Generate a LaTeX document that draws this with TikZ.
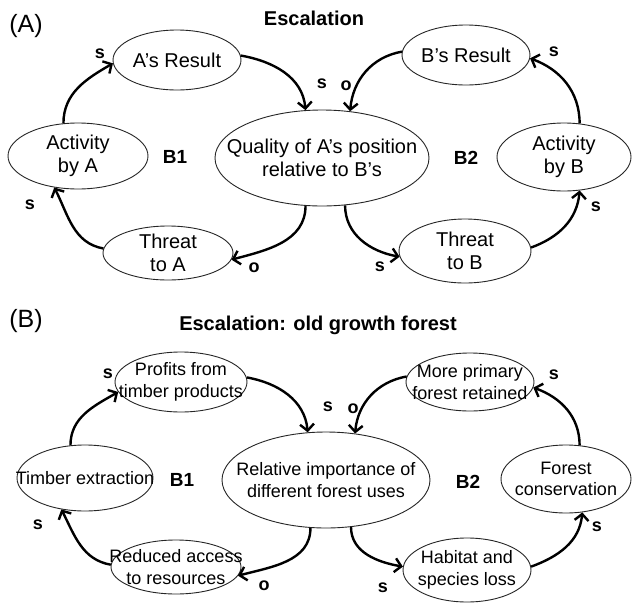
\documentclass[tikz,border=0pt]{standalone}
\usepackage{fontspec}
\setmainfont{Liberation Sans}
\usetikzlibrary{shapes.geometric,arrows.meta}

\tikzset{
  oval/.style={ellipse, draw=black!85, line width=0.9pt, inner sep=-90pt},
  txtA/.style={align=center, font=\fontsize{20}{23}\selectfont},
  txtB/.style={align=center, font=\fontsize{18}{21.5}\selectfont},
  arr/.style={line width=2.4pt, -{Straight Barb[length=6.5pt,width=14pt]}},
  pol/.style={font=\bfseries\fontsize{18}{18}\selectfont, inner sep=0pt},
  loopname/.style={font=\bfseries\fontsize{19}{19}\selectfont, inner sep=0pt},
  heading/.style={font=\bfseries\fontsize{20}{20}\selectfont, inner sep=0pt},
  panel/.style={font=\fontsize{25}{25}\selectfont, inner sep=0pt},
}

\begin{document}
\begin{tikzpicture}[x=1pt, y=-1pt]
\useasboundingbox[fill=white] (0,0) rectangle (633,606);

% ---------------- (A) Escalation ----------------
\node[panel] (labA) at (26,26) {(A)};
\node[heading] (titA) at (314,18) {Escalation};

\node[oval, minimum width=128pt, minimum height=60pt] (resA) at (177,60) {};
\node[txtA] (resAt) at (resA) {A’s Result};
\node[oval, minimum width=140pt, minimum height=66pt] (actA) at (78,156) {};
\node[txtA] (actAt) at (actA) {Activity\\by A};
\node[oval, minimum width=130pt, minimum height=54pt] (thrA) at (168,253) {};
\node[txtA] (thrAt) at (thrA) {Threat\\to A};
\node[oval, minimum width=214pt, minimum height=96pt] (qual) at (322,158) {};
\node[txtA] (qualt) at (qual) {Quality of A’s position\\relative to B’s};
\node[oval, minimum width=128pt, minimum height=60pt] (resB) at (466,55) {};
\node[txtA] (resBt) at (resB) {B’s Result};
\node[oval, minimum width=134pt, minimum height=68pt] (actB) at (564,157) {};
\node[txtA] (actBt) at (actB) {Activity\\by B};
\node[oval, minimum width=132pt, minimum height=64pt] (thrB) at (465,251) {};
\node[txtA] (thrBt) at (thrB) {Threat\\to B};

\node[loopname] (b1A) at (175,157) {B1};
\node[loopname] (b2A) at (466,158) {B2};

\draw[arr] (actA.114) to[out=90, in=210] (resA.183);
\draw[arr] (resA.4) to[out=-10, in=95] (qual.109);
\draw[arr] (resB.177) to[out=190, in=85] (qual.59);
\draw[arr] (qual.251) to[out=270, in=15] (thrA.354);
\draw[arr] (thrA.176) to[out=170, in=-63] (actA.233);
\draw[arr] (qual.296) to[out=270, in=170] (thrB.185);
\draw[arr] (thrB.3) to[out=20, in=-95] (actB.295);
\draw[arr] (actB.65) to[out=90, in=-20] (resB.357);

\node[pol] (pA1) at (100,54) {s};
\node[pol] (pA2) at (322,84) {s};
\node[pol] (pA3) at (346,86) {o};
\node[pol] (pA4) at (254,268) {o};
\node[pol] (pA5) at (30,205) {s};
\node[pol] (pA6) at (380,267) {s};
\node[pol] (pA7) at (596,207) {s};
\node[pol] (pA8) at (554,52) {s};

% ---------------- (B) Escalation: old growth forest ----------------
\node[panel] (labB) at (26,321) {(B)};
\node[heading] (titB) at (318,325) {Escalation: old growth forest};

\node[oval, minimum width=132pt, minimum height=60pt] (prof) at (181,382) {};
\node[txtB] (proft) at (prof) {Profits from\\timber products};
\node[oval, minimum width=136pt, minimum height=66pt] (timb) at (85,478) {};
\node[txtB] (timbt) at (timb) {Timber extraction};
\node[oval, minimum width=130pt, minimum height=54pt] (redu) at (176,567) {};
\node[txtB] (redut) at (redu) {Reduced access\\to resources};
\node[oval, minimum width=208pt, minimum height=96pt] (rel) at (326,480) {};
\node[txtB] (relt) at (rel) {Relative importance of\\different forest uses};
\node[oval, minimum width=128pt, minimum height=58pt] (more) at (470,382) {};
\node[txtB] (moret) at (more) {More primary\\forest retained};
\node[oval, minimum width=130pt, minimum height=68pt] (fcon) at (566,479) {};
\node[txtB] (fcont) at (fcon) {Forest\\conservation};
\node[oval, minimum width=128pt, minimum height=64pt] (hab) at (467,570) {};
\node[txtB] (habt) at (hab) {Habitat and\\species loss};

\node[loopname] (b1B) at (182,480) {B1};
\node[loopname] (b2B) at (468,482) {B2};

\draw[arr] (timb.114) to[out=90, in=210] (prof.189);
\draw[arr] (prof.4) to[out=-10, in=95] (rel.111);
\draw[arr] (more.175) to[out=190, in=85] (rel.58);
\draw[arr] (rel.252) to[out=270, in=15] (redu.352);
\draw[arr] (redu.178) to[out=170, in=-63] (timb.233);
\draw[arr] (rel.298) to[out=270, in=170] (hab.177);
\draw[arr] (hab.3) to[out=20, in=-95] (fcon.296);
\draw[arr] (fcon.68) to[out=90, in=-20] (more.355);

\node[pol] (pB1) at (108,374) {s};
\node[pol] (pB2) at (328,407) {s};
\node[pol] (pB3) at (353,409) {o};
\node[pol] (pB4) at (264,586) {o};
\node[pol] (pB5) at (38,525) {s};
\node[pol] (pB6) at (383,588) {s};
\node[pol] (pB7) at (597,527) {s};
\node[pol] (pB8) at (554,375) {s};
\end{tikzpicture}
\end{document}
